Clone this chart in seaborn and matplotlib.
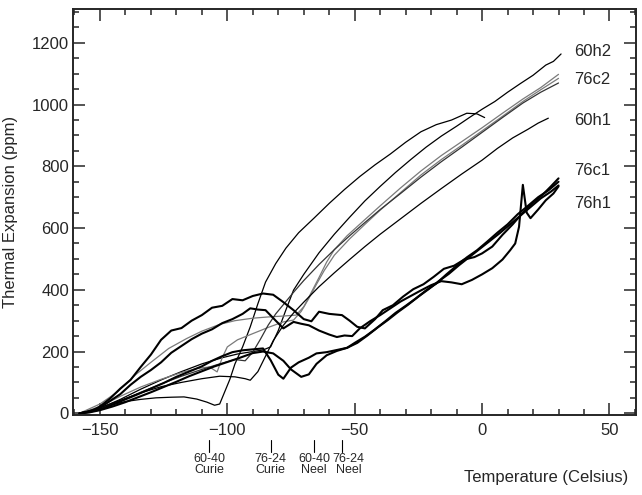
import matplotlib
matplotlib.use("Agg")
import matplotlib.pyplot as plt
import matplotlib.ticker as ticker
import seaborn as sns

# --- thin upper curves (temperature in C, expansion in ppm) ---
l1_x = [-158, -152, -146, -140, -134, -128, -122, -117, -112, -108, -105, -103, -101, -99, -97, -94, -91, -88, -85, -81,
        -77, -72, -66, -60, -54, -48, -42, -36, -30, -24, -18, -12, -6, -2, 1]
l1_y = [0, 10, 26, 38, 45, 50, 52, 53, 46, 36, 26, 30, 70, 110, 160, 215, 280, 355, 425, 485,
        535, 585, 632, 680, 725, 767, 805, 840, 878, 912, 935, 950, 972, 970, 958]

h2_x = [-158, -150, -142, -134, -126, -118, -110, -102, -96, -90, -86, -83, -80, -77, -74, -70, -64, -58, -52, -46,
        -40, -34, -28, -22, -16, -10, -5, 0, 5, 10, 15, 20, 25, 28, 31]
h2_y = [0, 16, 45, 78, 108, 135, 160, 180, 192, 200, 205, 215, 268, 335, 399, 450, 520, 580, 635, 688,
        735, 780, 822, 862, 898, 930, 958, 985, 1010, 1040, 1068, 1095, 1128, 1140, 1164]

g1_x = [-158, -150, -143, -136, -130, -123, -116, -110, -103, -97, -90, -84, -78, -73, -70, -67, -64, -61, -58, -53,
        -47, -40, -32, -24, -16, -8, 0, 8, 16, 23, 30]
g1_y = [0, 30, 70, 125, 165, 210, 242, 266, 288, 300, 308, 312, 315, 318, 345, 392, 440, 490, 530, 575,
        620, 672, 730, 785, 835, 880, 925, 972, 1018, 1055, 1098]

g2_x = [-158, -150, -142, -134, -126, -118, -112, -107, -104, -102, -100, -96, -90, -84, -78, -74, -71, -68, -65, -62,
        -58, -52, -46, -40, -32, -24, -16, -8, 0, 8, 16, 23, 30]
g2_y = [0, 22, 55, 85, 110, 132, 145, 150, 134, 180, 215, 238, 258, 278, 296, 302, 330, 372, 418, 462,
        512, 565, 612, 658, 715, 772, 822, 868, 915, 962, 1010, 1048, 1085]

c2_x = [-158, -150, -142, -134, -126, -118, -110, -103, -97, -93, -90, -87, -84, -81, -78, -74, -70, -64, -58, -52,
        -46, -40, -32, -24, -16, -8, 0, 8, 16, 23, 30]
c2_y = [0, 14, 40, 68, 95, 120, 142, 160, 174, 170, 198, 240, 285, 322, 352, 392, 430, 482, 530, 575,
        618, 660, 712, 765, 815, 862, 910, 958, 1005, 1040, 1070]

h1_x = [-158, -150, -142, -134, -126, -118, -110, -103, -97, -93, -91, -88, -85, -82, -78, -74, -70, -64, -58, -52,
        -46, -40, -32, -24, -16, -8, 0, 6, 12, 18, 22, 26]
h1_y = [0, 18, 42, 66, 86, 100, 112, 120, 118, 112, 107, 135, 185, 235, 285, 325, 360, 410, 455, 498,
        540, 580, 630, 680, 728, 775, 820, 858, 892, 920, 940, 956]

# --- thick noisy 76 curves ---
t1_x = [-158, -154, -150, -146, -142, -138, -134, -130, -126, -122, -118, -114, -110, -106, -102, -98, -94, -90, -86, -82,
        -78, -74, -70, -67, -64, -60, -55, -52, -49, -46, -42, -39, -35, -31, -27, -23, -19, -15, -11, -7,
        -3, 0, 4, 8, 12, 16, 20, 24, 27, 30]
t1_y = [0, 4, 22, 48, 80, 108, 150, 190, 238, 268, 276, 300, 318, 342, 348, 370, 366, 380, 388, 384,
        360, 334, 305, 298, 329, 322, 318, 300, 280, 275, 305, 334, 350, 378, 402, 418, 442, 468, 478, 498,
        506, 518, 540, 578, 612, 650, 682, 710, 735, 761]

t2_x = [-158, -154, -150, -146, -142, -138, -134, -130, -126, -122, -118, -114, -110, -106, -102, -98, -94, -91, -88, -85,
        -81, -78, -74, -71, -68, -64, -60, -57, -54, -51, -48, -44, -40, -36, -32, -28, -24, -20, -16, -12,
        -8, -4, 0, 4, 8, 11, 13, 14.5, 16, 17.5, 19, 22, 25, 28, 30]
t2_y = [0, 6, 18, 40, 62, 92, 118, 140, 165, 196, 218, 240, 258, 272, 292, 305, 322, 340, 336, 334,
        300, 275, 296, 290, 285, 268, 255, 247, 252, 250, 275, 298, 318, 340, 362, 380, 398, 415, 428, 424,
        418, 432, 450, 470, 498, 528, 550, 604, 740, 650, 632, 660, 690, 712, 735]

t3_x = [-158, -154, -150, -145, -140, -135, -130, -125, -120, -115, -110, -106, -102, -98, -94, -90, -86, -83, -80, -78,
        -75, -72, -68, -65, -61, -57, -53, -50, -46, -42, -38, -34, -30, -26, -22, -18, -14, -10, -6, -2,
        2, 6, 10, 14, 18, 22, 26, 30]
t3_y = [0, 5, 12, 28, 45, 62, 80, 98, 118, 135, 152, 170, 185, 198, 204, 207, 210, 172, 125, 112,
        148, 165, 180, 194, 198, 205, 212, 228, 248, 272, 298, 325, 348, 372, 398, 420, 450, 478, 505, 528,
        556, 585, 612, 645, 672, 700, 722, 750]

t4_x = [-158, -154, -150, -145, -140, -135, -130, -125, -120, -115, -110, -105, -100, -95, -90, -86, -82, -78, -75, -71,
        -68, -65, -61, -57, -53, -49, -45, -41, -37, -33, -29, -25, -21, -17, -13, -9, -5, -1, 3, 7,
        11, 15, 19, 23, 27, 30]
t4_y = [0, 3, 10, 22, 36, 52, 68, 85, 102, 120, 136, 152, 166, 180, 195, 200, 194, 170, 142, 118,
        126, 160, 188, 202, 212, 228, 252, 278, 302, 328, 352, 378, 402, 428, 452, 480, 506, 532, 558, 584,
        612, 640, 668, 696, 718, 738]

# run labels on the right
run_labels = ["60h2", "76c2", "60h1", "76c1", "76h1"]
run_label_y = [1171, 1080, 950, 788, 681]

# transition markers below the axis
trans_x = [-107, -83, -66, -55]
trans_text_x = [-107, -83, -66, -52.5]
trans_text = ["60-40\nCurie", "76-24\nCurie", "60-40\nNeel", "76-24\nNeel"]

sns.set_style("ticks")
plt.rcParams["font.family"] = ["Liberation Sans", "DejaVu Sans"]

fig = plt.figure(figsize=(6.42, 4.95), dpi=100)
ax = fig.add_axes([0.114, 0.162, 0.877, 0.820])

thin = [(l1_x, l1_y, "black"), (h2_x, h2_y, "black"), (g1_x, g1_y, "#7a7a7a"),
        (g2_x, g2_y, "#7a7a7a"), (c2_x, c2_y, "#333333"), (h1_x, h1_y, "black")]
for xs, ys, col in thin:
    sns.lineplot(x=xs, y=ys, color=col, lw=0.9, sort=False, estimator=None, ax=ax)

for xs, ys in [(t1_x, t1_y), (t2_x, t2_y), (t3_x, t3_y), (t4_x, t4_y)]:
    sns.lineplot(x=xs, y=ys, color="black", lw=1.5, sort=False, estimator=None, ax=ax)

for lab, y in zip(run_labels, run_label_y):
    ax.text(36.0, y, lab, fontsize=12, va="center", ha="left")

xt = ax.get_xaxis_transform()
for x in trans_x:
    ax.plot([x, x], [-0.061, -0.091], color="black", lw=0.8, transform=xt, clip_on=False)
for x, t in zip(trans_text_x, trans_text):
    ax.text(x, -0.093, t, transform=xt, ha="center", va="top", fontsize=9, linespacing=0.95)

ax.set_xlim(-160.5, 60.5)
ax.set_ylim(-5, 1310)
ax.xaxis.set_major_locator(ticker.MultipleLocator(50))
ax.xaxis.set_minor_locator(ticker.MultipleLocator(10))
ax.yaxis.set_major_locator(ticker.FixedLocator([0, 200, 400, 600, 800, 1000, 1200]))
ax.yaxis.set_minor_locator(ticker.MultipleLocator(50))
ax.tick_params(which="both", direction="in", top=True, right=True, width=1.1, labelsize=12)
ax.tick_params(which="major", length=8.5)
ax.tick_params(which="minor", length=4.5)
ax.tick_params(axis="x", pad=6)
ax.tick_params(axis="y", pad=3)
for s in ax.spines.values():
    s.set_linewidth(1.4)

ax.set_ylabel("Thermal Expansion (ppm)", fontsize=12)
ax.yaxis.set_label_coords(-0.098, 0.5)
ax.set_xlabel("Temperature (Celsius)", fontsize=12, ha="right", va="center")
ax.xaxis.set_label_coords(0.986, -0.155)

fig.savefig("out.png", dpi=100)
